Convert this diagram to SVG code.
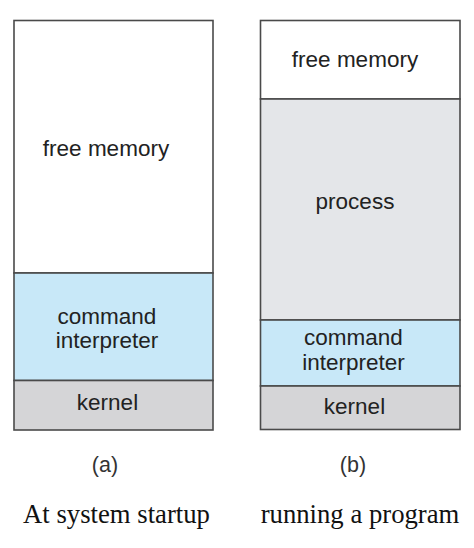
<svg xmlns="http://www.w3.org/2000/svg" width="474" height="548" viewBox="0 0 474 548">
<style>
.b{stroke:#4a4a4a;stroke-width:1.6}
.free{fill:#ffffff}
.cmd{fill:#c8e8f8}
.ker{fill:#d5d5d7}
.proc{fill:#e4e6e9}
.t{font-family:"Liberation Sans",Arial,sans-serif;font-size:22.5px;fill:#222;text-anchor:middle}
.c{font-family:"Liberation Sans",Arial,sans-serif;font-size:21.5px;fill:#333;text-anchor:middle}
.s{font-family:"Liberation Serif","Times New Roman",serif;font-size:26.7px;fill:#111;text-anchor:middle}
</style>
<rect width="474" height="548" fill="#ffffff"/>
<g id="a">
<g id="a-free"><rect class="b free" x="14" y="20.5" width="199" height="252.5"/><text class="t" x="106" y="156">free memory</text></g>
<g id="a-cmd"><rect class="b cmd" x="14" y="273" width="199" height="107.5"/><text class="t" x="107" y="323.5">command</text><text class="t" x="107" y="348">interpreter</text></g>
<g id="a-kernel"><rect class="b ker" x="14" y="380.5" width="199" height="49.5"/><text class="t" x="107.5" y="410">kernel</text></g>
</g>
<g id="b">
<g id="b-free"><rect class="b free" x="260.5" y="20.5" width="199.5" height="78.5"/><text class="t" x="355" y="67">free memory</text></g>
<g id="b-proc"><rect class="b proc" x="260.5" y="99" width="199.5" height="221"/><text class="t" x="355" y="208.5">process</text></g>
<g id="b-cmd"><rect class="b cmd" x="260.5" y="320" width="199.5" height="66"/><text class="t" x="353.5" y="345">command</text><text class="t" x="353.5" y="370">interpreter</text></g>
<g id="b-kernel"><rect class="b ker" x="260.5" y="386" width="199.5" height="43.5"/><text class="t" x="354.5" y="414">kernel</text></g>
</g>
<g id="connectors"/>
<text class="c" x="105" y="472">(a)</text>
<text class="c" x="353" y="472">(b)</text>
<text class="s" x="116.5" y="523">At system startup</text>
<text class="s" x="360" y="523">running a program</text>
</svg>
